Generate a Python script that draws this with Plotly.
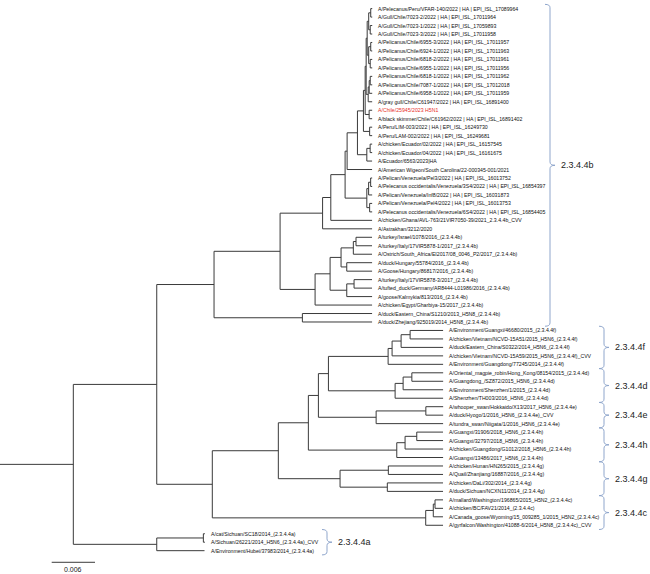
import plotly.graph_objects as go

# ---------------- data ----------------
leaf_labels = [
    "A/Pelecanus/Peru/VFAR-140/2022 | HA | EPI_ISL_17089964",
    "A/Gull/Chile/7023-2/2022 | HA | EPI_ISL_17011964",
    "A/Gull/Chile/7023-1/2022 | HA | EPI_ISL_17059893",
    "A/Gull/Chile/7023-3/2022 | HA | EPI_ISL_17011958",
    "A/Pelicanus/Chile/6955-3/2022 | HA | EPI_ISL_17011957",
    "A/Pelicanus/Chile/6924-1/2022 | HA | EPI_ISL_17011963",
    "A/Pelicanus/Chile/6818-2/2022 | HA | EPI_ISL_17011961",
    "A/Pelicanus/Chile/6955-1/2022 | HA | EPI_ISL_17011956",
    "A/Pelicanus/Chile/6818-1/2022 | HA | EPI_ISL_17011962",
    "A/Pelicanus/Chile/7087-1/2022 | HA | EPI_ISL_17012018",
    "A/Pelicanus/Chile/6958-1/2022 | HA | EPI_ISL_17011959",
    "A/gray gull/Chile/C61947/2022 | HA | EPI_ISL_16891400",
    "A/Chile/25945/2023 H5N1",
    "A/black skimmer/Chile/C61962/2022 | HA | EPI_ISL_16891402",
    "A/Peru/LIM-003/2022 | HA | EPI_ISL_16249730",
    "A/Peru/LAM-002/2022 | HA | EPI_ISL_16249681",
    "A/chicken/Ecuador/02/2022 | HA | EPI_ISL_16157545",
    "A/chicken/Ecuador/04/2022 | HA | EPI_ISL_16161675",
    "A/Ecuador/6563/2023|HA",
    "A/American Wigeon/South Carolina/22-000345-001/2021",
    "A/Pelican/Venezuela/Pel3/2022 | HA | EPI_ISL_16013752",
    "A/Pelecanus occidentalis/Venezuela/3S4/2022 | HA | EPI_ISL_16854397",
    "A/Pelican/Venezuela/Inf8/2022 | HA | EPI_ISL_16031873",
    "A/Pelican/Venezuela/Pel4/2022 | HA | EPI_ISL_16013753",
    "A/Pelecanus occidentalis/Venezuela/6S4/2022 | HA | EPI_ISL_16854405",
    "A/chicken/Ghana/AVL-763/21VIR7050-39/2021_2.3.4.4b_CVV",
    "A/Astrakhan/3212/2020",
    "A/turkey/Israel/1078/2016_(2.3.4.4b)",
    "A/turkey/Italy/17VIR5878-1/2017_(2.3.4.4b)",
    "A/Ostrich/South_Africa/EI2017/08_0046_P2/2017_(2.3.4.4b)",
    "A/duck/Hungary/55784/2016_(2.3.4.4b)",
    "A/Goose/Hungary/86817/2016_(2.3.4.4b)",
    "A/turkey/Italy/17VIR5878-3/2017_(2.3.4.4b)",
    "A/tufted_duck/Germany/AR8444-L01986/2016_(2.3.4.4b)",
    "A/goose/Kalmykia/813/2016_(2.3.4.4b)",
    "A/chicken/Egypt/Gharbiya-15/2017_(2.3.4.4b)",
    "A/duck/Eastern_China/S1210/2013_H5N8_(2.3.4.4b)",
    "A/duck/Zhejiang/925019/2014_H5N8_(2.3.4.4b)",
    "A/Environment/Guangxi/46680/2015_(2.3.4.4f)",
    "A/chicken/Vietnam/NCVD-15A51/2015_H5N6_(2.3.4.4f)",
    "A/duck/Eastern_China/S0322/2014_H5N6_(2.3.4.4f)",
    "A/chicken/Vietnam/NCVD-15A59/2015_H5N6_(2.3.4.4f)_CVV",
    "A/Environment/Guangdong/77245/2014_(2.3.4.4f)",
    "A/Oriental_magpie_robin/Hong_Kong/08154/2015_(2.3.4.4d)",
    "A/Guangdong_/SZ872/2015_H5N6_(2.3.4.4d)",
    "A/Environment/Shenzhen/1/2015_(2.3.4.4d)",
    "A/Shenzhen/TH003/2016_H5N6_(2.3.4.4d)",
    "A/whooper_swan/Hokkaido/X13/2017_H5N6_(2.3.4.4e)",
    "A/duck/Hyogo/1/2016_H5N6_(2.3.4.4e)_CVV",
    "A/tundra_swan/Niigata/1/2016_H5N6_(2.3.4.4e)",
    "A/Guangxi/31906/2018_H5N6_(2.3.4.4h)",
    "A/Guangxi/32797/2018_H5N6_(2.3.4.4h)",
    "A/chicken/Guangdong/G1012/2018_H5N6_(2.3.4.4h)",
    "A/Guangxi/13486/2017_H5N6_(2.3.4.4h)",
    "A/chicken/Hunan/HN265/2015_(2.3.4.4g)",
    "A/Quail/Zhanjiang/16887/2016_(2.3.4.4g)",
    "A/chicken/DaLi/302/2014_(2.3.4.4g)",
    "A/duck/Sichuan/NCXN11/2014_(2.3.4.4g)",
    "A/mallard/Washington/196865/2015_H5N2_(2.3.4.4c)",
    "A/chicken/BC/FAV21/2014_(2.3.4.4c)",
    "A/Canada_goose/Wyoming/15_009285_1/2015_H5N2_(2.3.4.4c)",
    "A/gyrfalcon/Washington/41088-6/2014_H5N8_(2.3.4.4c)_CVV",
    "A/cat/Sichuan/SC18/2014_(2.3.4.4a)",
    "A/Sichuan/26221/2014_H5N6_(2.3.4.4a)_CVV",
    "A/Environment/Hubei/37983/2014_(2.3.4.4a)",
]
highlight_leaf = "A/Chile/25945/2023 H5N1"

# tree topology with branch lengths (substitutions/site); leaves are indices into leaf_labels
nwk_chile = ("((((0:0.00021,1:0.00021):0.00028,(2:0.00028,3:0.00028):0.00021):0.00021,"
             "((4:0.00021,5:0.00021):0.00028,(6:0.00028,7:0.00028):0.00021):0.00021):0.00014,"
             "(((8:0.00028,9:0.00028):0.00014,10:0.00042):0.00014,11:0.00055):0.00028)")
nwk_southam = ("((((" + nwk_chile + ":0.00014,(12:0.00042,13:0.00042):0.00055):0.00024,"
               "(14:0.00035,15:0.00035):0.00086):0.00083,"
               "((16:0.00028,17:0.00028):0.00046,18:0.00073):0.0013):0.00143,19:0.00346)")
nwk_venezuela = "(((20:0.00021,21:0.00021):0.00028,22:0.00049):0.00025,(23:0.00035,24:0.00035):0.00039)"
nwk_americas = "(((" + nwk_southam + ":0.00028," + nwk_venezuela + ":0.00301):0.00198,25:0.00572):0.00114,26:0.00686)"
nwk_europe = ("(((((27:0.00222,28:0.00222):0.00037,29:0.00259):0.0017,(30:0.00351,31:0.00351):0.00079):0.00152,"
              "((32:0.00249,33:0.00249):0.00101,34:0.00351):0.00231):0.00208,35:0.0079)")
nwk_4b = "((" + nwk_americas + ":0.00589," + nwk_europe + ":0.00485):0.00915,(36:0.00966,37:0.00966):0.01224)"
nwk_4f = "((((38:0.00457,39:0.00457):0.00125,40:0.00582):0.00125,41:0.00707):0.00055,42:0.00762)"
nwk_4d = "(((43:0.00434,44:0.00434):0.00121,45:0.00554):0.00111,46:0.00665)"
nwk_4e = "((47:0.0024,48:0.0024):0.00689,49:0.00928)"
nwk_4h = "(((50:0.00364,51:0.00364):0.00162,52:0.00527):0.00115,53:0.00642)"
nwk_4g = "((54:0.00758,55:0.00758):0.00669,(56:0.00772,57:0.00772):0.00655)"
nwk_4c = "(((58:0.00111,59:0.00111):0.00024,60:0.00134):0.00105,61:0.0024)"
nwk_4a = "((62:0.00021,63:0.00021):0.00646,64:0.00662)"
nwk_lower = ("(((((" + nwk_4f + ":0.00827," + nwk_4d + ":0.00924):0.00139," + nwk_4e + ":0.008):0.00139,"
             + nwk_4h + ":0.01225):0.00416," + nwk_4g + ":0.00855):0.00915," + nwk_4c + ":0.02957)")
newick = "((" + nwk_4b + ":0.00794," + nwk_lower + ":0.0077):0.01156," + nwk_4a + ":0.01156):0.01016;"

clade_names = ["2.3.4.4b", "2.3.4.4f", "2.3.4.4d", "2.3.4.4e", "2.3.4.4h", "2.3.4.4g", "2.3.4.4c", "2.3.4.4a"]
clade_first_leaf = [0, 38, 43, 47, 50, 54, 58, 62]
clade_last_leaf = [37, 42, 46, 49, 53, 57, 61, 64]
scale_bar_value = 0.006

# ---------------- layout constants (style) ----------------
W, H = 650, 574
X_MAX = 0.09007                      # data units across the figure width
Y_RANGE = [66.753, -1.0153]          # leaf rows, reversed
def px(v):                           # horizontal pixel offset -> data units
    return v * X_MAX / W
bracket_px = [550, 604, 604, 604, 604, 604, 604, 327]
LINE_COLOR = "#3a3a3a"
BRACKET_COLOR = "#8fa6cc"
FONT = "Arial, Liberation Sans, sans-serif"

# ---------------- parse tree ----------------
def parse_newick(s):
    s = s.strip().rstrip(";")
    pos = 0
    def node():
        nonlocal pos
        n = {"children": [], "name": None, "length": 0.0}
        if s[pos] == "(":
            pos += 1
            while True:
                n["children"].append(node())
                if s[pos] == ",":
                    pos += 1
                    continue
                if s[pos] == ")":
                    pos += 1
                    break
        start = pos
        while pos < len(s) and s[pos] not in ",():":
            pos += 1
        n["name"] = s[start:pos].strip() or None
        if pos < len(s) and s[pos] == ":":
            pos += 1
            start = pos
            while pos < len(s) and s[pos] not in ",()":
                pos += 1
            n["length"] = float(s[start:pos])
        return n
    return node()

tree = parse_newick(newick)
leaves = []
def place(n, x0):
    n["x0"] = x0
    n["x"] = x0 + n["length"]
    if n["children"]:
        for c in n["children"]:
            place(c, n["x"])
        n["y"] = (n["children"][0]["y"] + n["children"][-1]["y"]) / 2
    else:
        n["y"] = len(leaves)
        leaves.append(n)
place(tree, 0.0)

xs, ys = [], []
def segs(n):
    xs.extend([n["x0"], n["x"], None]); ys.extend([n["y"], n["y"], None])
    if n["children"]:
        xs.extend([n["x"], n["x"], None])
        ys.extend([n["children"][0]["y"], n["children"][-1]["y"], None])
        for c in n["children"]:
            segs(c)
segs(tree)

fig = go.Figure()
fig.add_trace(go.Scatter(x=xs, y=ys, mode="lines", line=dict(color=LINE_COLOR, width=1),
                         hoverinfo="skip", showlegend=False))

annotations = []
for lf in leaves:
    label = leaf_labels[int(lf["name"])]
    annotations.append(dict(
        x=lf["x"] + px(4), y=lf["y"], xref="x", yref="y", text=label, showarrow=False,
        xanchor="left", yanchor="middle",
        font=dict(family=FONT, size=5.2, color="#e8302a" if label == highlight_leaf else "#111111")))

shapes = []
for name, a, b, bx in zip(clade_names, clade_first_leaf, clade_last_leaf, bracket_px):
    y0, y1 = a - 0.5, b + 0.5
    ym = (y0 + y1) / 2
    xv, w, r = px(bx), px(5), 0.4
    path = (f"M {xv - w},{y0} Q {xv},{y0} {xv},{y0 + r} L {xv},{ym - r} "
            f"Q {xv},{ym} {xv + w},{ym} Q {xv},{ym} {xv},{ym + r} "
            f"L {xv},{y1 - r} Q {xv},{y1} {xv - w},{y1}")
    shapes.append(dict(type="path", path=path, xref="x", yref="y",
                       line=dict(color=BRACKET_COLOR, width=1)))
    annotations.append(dict(x=xv + px(9), y=ym, xref="x", yref="y", text=name, showarrow=False,
                            xanchor="left", yanchor="middle",
                            font=dict(family=FONT, size=9, color="#222222")))

# scale bar
sb_x0, sb_y = px(51.7), 65.37
fig.add_trace(go.Scatter(x=[sb_x0, sb_x0 + scale_bar_value], y=[sb_y, sb_y], mode="lines",
                         line=dict(color=LINE_COLOR, width=1), hoverinfo="skip", showlegend=False))
annotations.append(dict(x=sb_x0 + scale_bar_value / 2, y=66.2, xref="x", yref="y",
                        text=f"{scale_bar_value:g}", showarrow=False, xanchor="center", yanchor="middle",
                        font=dict(family=FONT, size=7, color="#222222")))

fig.update_layout(
    width=W, height=H, margin=dict(l=0, r=0, t=0, b=0),
    plot_bgcolor="white", paper_bgcolor="white", showlegend=False,
    xaxis=dict(range=[0, X_MAX], visible=False, fixedrange=True),
    yaxis=dict(range=Y_RANGE, visible=False, fixedrange=True),
    annotations=annotations, shapes=shapes,
)
fig.write_html("out.html", config={"displayModeBar": False},
               post_script="document.body.style.margin='0px';document.body.style.overflow='hidden';")
